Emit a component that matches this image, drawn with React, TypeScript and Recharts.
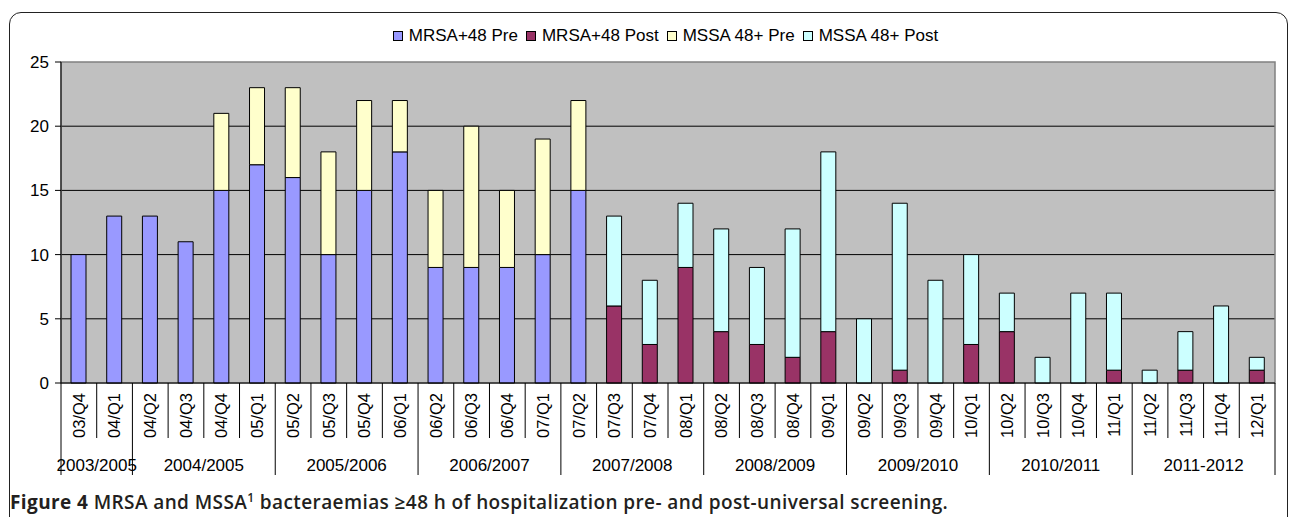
import { BarChart, Bar, XAxis, YAxis, CartesianGrid, Legend, ReferenceArea } from "recharts";

const categories = [
  "03/Q4", "04/Q1", "04/Q2", "04/Q3", "04/Q4", "05/Q1", "05/Q2", "05/Q3", "05/Q4",
  "06/Q1", "06/Q2", "06/Q3", "06/Q4", "07/Q1", "07/Q2", "07/Q3", "07/Q4", "08/Q1",
  "08/Q2", "08/Q3", "08/Q4", "09/Q1", "09/Q2", "09/Q3", "09/Q4", "10/Q1", "10/Q2",
  "10/Q3", "10/Q4", "11/Q1", "11/Q2", "11/Q3", "11/Q4", "12/Q1",
];

const mrsaPre = [10, 13, 13, 11, 15, 17, 16, 10, 15, 18, 9, 9, 9, 10, 15, 0, 0, 0, 0, 0, 0, 0, 0, 0, 0, 0, 0, 0, 0, 0, 0, 0, 0, 0];
const mrsaPost = [0, 0, 0, 0, 0, 0, 0, 0, 0, 0, 0, 0, 0, 0, 0, 6, 3, 9, 4, 3, 2, 4, 0, 1, 0, 3, 4, 0, 0, 1, 0, 1, 0, 1];
const mssaPre = [0, 0, 0, 0, 6, 6, 7, 8, 7, 4, 6, 11, 6, 9, 7, 0, 0, 0, 0, 0, 0, 0, 0, 0, 0, 0, 0, 0, 0, 0, 0, 0, 0, 0];
const mssaPost = [0, 0, 0, 0, 0, 0, 0, 0, 0, 0, 0, 0, 0, 0, 0, 7, 5, 5, 8, 6, 10, 14, 5, 13, 8, 7, 3, 2, 7, 6, 1, 3, 6, 1];

const yearLabels = ["2003/2005", "2004/2005", "2005/2006", "2006/2007", "2007/2008", "2008/2009", "2009/2010", "2010/2011", "2011-2012"];
const yearSizes = [2, 4, 4, 4, 4, 4, 4, 4, 4];
const yTicks = [0, 5, 10, 15, 20, 25];

const series = [
  { key: "mrsaPre", name: "MRSA+48 Pre", color: "#9999FF" },
  { key: "mrsaPost", name: "MRSA+48 Post", color: "#993366" },
  { key: "mssaPre", name: "MSSA 48+ Pre", color: "#FFFFCC" },
  { key: "mssaPost", name: "MSSA 48+ Post", color: "#CCFFFF" },
];

const data = categories.map((c, i) => ({
  name: c,
  mrsaPre: mrsaPre[i],
  mrsaPost: mrsaPost[i],
  mssaPre: mssaPre[i],
  mssaPost: mssaPost[i],
}));

// index of first quarter in each year group -> group number
const groupStarts: Record<number, number> = {};
let acc = 0;
yearSizes.forEach((s, g) => {
  groupStarts[acc] = g;
  acc += s;
});

const W = 1290;
const H = 480;
const Y_W = 61;
const M_RIGHT = 15;
const BAND = (W - Y_W - M_RIGHT) / categories.length;
const FONT = "'Liberation Sans', Arial, sans-serif";

const XTick = (props: any) => {
  const { x, y, payload, index } = props;
  const left = x - BAND / 2;
  const g = groupStarts[index];
  const isStart = g !== undefined;
  return (
    <g>
      <line x1={left} x2={left} y1={y} y2={y + (isStart ? 92 : 55)} stroke="#000" />
      {index === categories.length - 1 && (
        <line x1={x + BAND / 2} x2={x + BAND / 2} y1={y} y2={y + 92} stroke="#000" />
      )}
      <text
        transform={`translate(${x},${y + 10}) rotate(-90)`}
        textAnchor="end"
        dy="0.35em"
        fontSize={16.5}
        fontFamily={FONT}
        fill="#000"
      >
        {payload.value}
      </text>
      {isStart && (
        <text
          x={left + (yearSizes[g] * BAND) / 2}
          y={y + 82}
          textAnchor="middle"
          dy="0.35em"
          fontSize={17}
          fontFamily={FONT}
          fill="#000"
        >
          {yearLabels[g]}
        </text>
      )}
    </g>
  );
};

const CustomLegend = () => (
  <div
    style={{
      display: "flex",
      justifyContent: "center",
      alignItems: "center",
      height: 20,
      fontFamily: FONT,
      fontSize: 17,
      color: "#000",
      paddingLeft: 64,
    }}
  >
    {series.map((s) => (
      <span key={s.key} style={{ display: "flex", alignItems: "center", marginRight: 8 }}>
        <span
          style={{
            width: 10,
            height: 10,
            border: "1px solid #000",
            background: s.color,
            marginRight: 6,
            display: "inline-block",
            boxSizing: "border-box",
          }}
        ></span>
        {s.name}
      </span>
    ))}
  </div>
);

export default function App() {
  return (
    <div
      style={{
        position: "absolute",
        left: 0,
        top: 0,
        width: W,
        height: 517,
        overflow: "hidden",
        background: "#fff",
      }}
    >
      <div
        style={{
          position: "absolute",
          left: 9,
          top: 12,
          width: 1279,
          height: 560,
          border: "1.5px solid #222",
          borderRadius: 12,
          boxSizing: "border-box",
        }}
      ></div>
      <div style={{ position: "absolute", left: 0, top: 0 }}>
        <BarChart
          width={W}
          height={H}
          data={data}
          barSize={15}
          margin={{ top: 42, right: M_RIGHT, left: 0, bottom: 0 }}
        >
          <Legend verticalAlign="top" height={20} content={<CustomLegend />} wrapperStyle={{ top: 26 }} />
          <CartesianGrid fill="#C0C0C0" stroke="#000" vertical={false} horizontalValues={[5, 10, 15, 20]} />
          <ReferenceArea y1={0} y2={25} fill="none" stroke="#808080" strokeWidth={1.5} />
          <XAxis
            dataKey="name"
            interval={0}
            height={97}
            tickLine={false}
            tickSize={0}
            tickMargin={0}
            axisLine={{ stroke: "#000" }}
            tick={<XTick />}
          />
          <YAxis
            width={Y_W}
            domain={[0, 25]}
            ticks={yTicks}
            interval={0}
            tickSize={6}
            tickMargin={6}
            axisLine={{ stroke: "#000" }}
            tickLine={{ stroke: "#000" }}
            tick={{ fontSize: 17, fontFamily: FONT, fill: "#000" }}
          />
          {series.map((s) => (
            <Bar
              key={s.key}
              dataKey={s.key}
              name={s.name}
              stackId="a"
              fill={s.color}
              stroke="#000"
              strokeWidth={1}
              isAnimationActive={false}
            />
          ))}
        </BarChart>
      </div>
      <div
        style={{
          position: "absolute",
          left: 10,
          top: 489,
          fontFamily: "'Open Sans', 'Noto Sans', sans-serif",
          fontSize: 19,
          letterSpacing: 0.4,
          fontWeight: 600,
          color: "#231F20",
          whiteSpace: "nowrap",
          lineHeight: "26px",
        }}
      >
        <span style={{ fontWeight: 700 }}>Figure 4</span> MRSA and MSSA<sup style={{ fontSize: 12, lineHeight: 0 }}>1</sup> bacteraemias ≥48 h of hospitalization pre- and post-universal screening.
      </div>
    </div>
  );
}
